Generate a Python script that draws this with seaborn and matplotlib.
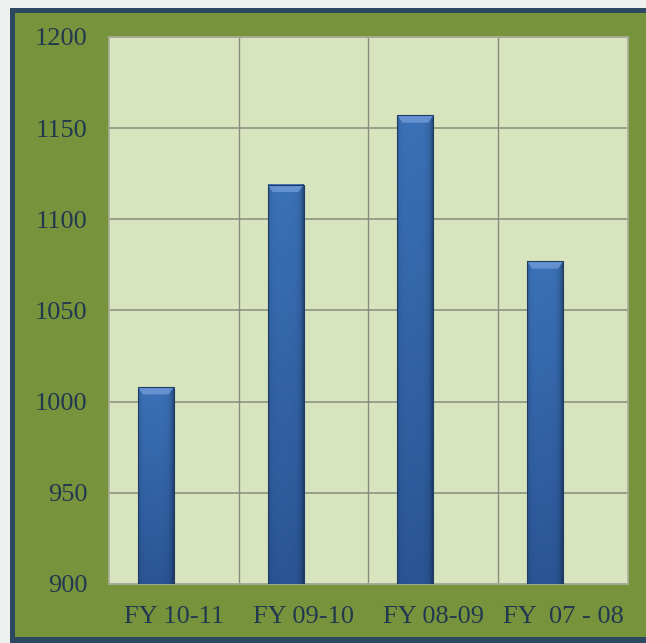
import numpy as np
import pandas as pd
import matplotlib
matplotlib.use("Agg")
import matplotlib.pyplot as plt
from matplotlib.patches import Rectangle
from matplotlib.colors import to_rgb
import seaborn as sns

# Chart data
categories = ["FY 10-11", "FY 09-10", "FY 08-09", "FY  07 - 08"]
values = [1008, 1119, 1157, 1077]
series_names = ["Series1", "Series2"]
y_ticks = [900, 950, 1000, 1050, 1100, 1150, 1200]

df = pd.DataFrame({"period": categories, "value": values, "series": series_names[0]})

sns.set_theme(style="white")
plt.rcParams["font.family"] = ["Liberation Serif", "DejaVu Serif"]

W, H = 646, 643
fig = plt.figure(figsize=(W / 100, H / 100), dpi=100)
fig.patch.set_facecolor("#eef0f0")

# Frame: dark border with olive fill
fig.patches.append(Rectangle((10 / W, 0), 1 - 10 / W, 1 - 8 / H, transform=fig.transFigure,
                             facecolor="#2c4760", edgecolor="none", zorder=-10))
fig.patches.append(Rectangle((15 / W, 6 / H), 1 - 15 / W, 1 - 19 / H, transform=fig.transFigure,
                             facecolor="#77933c", edgecolor="none", zorder=-9))

ax = fig.add_axes([109 / W, 59 / H, 519 / W, 547 / H])
ax.set_zorder(5)
ax.set_facecolor("#d8e4bd")

sns.barplot(data=df, x="period", y="value", hue="series", hue_order=series_names,
            order=categories, dodge=True, width=0.554, palette=["#3567ab", "#3567ab"],
            legend=False, ax=ax, zorder=3)

ymin, ymax = 900, 1200
ax.set_ylim(ymin, ymax)
ax.set_xlim(-0.5, len(categories) - 0.5)
ax.set_yticks(y_ticks)
ax.set_yticklabels([str(t) for t in y_ticks])

# Gridlines
for t in y_ticks:
    ax.axhline(t, color="#878d7d", lw=1.1, zorder=1)
for i in range(1, len(categories)):
    ax.axvline(i - 0.5, color="#878d7d", lw=1.0, zorder=1)

# Bevelled bar shading: horizontal edge darkening combined with a vertical fade
top_c = np.array(to_rgb("#3b71b7"))
bot_c = np.array(to_rgb("#2a5595"))
nx, ny = 48, 128
u = np.linspace(0, 1, nx)
shade_h = 1 - 0.18 * np.exp(-u / 0.06) - 0.35 * np.exp(-(1 - u) / 0.08)
v = np.linspace(0, 1, ny)[:, None]  # 0 = top, 1 = bottom
base = top_c[None, None, :] * (1 - v[..., None]) + bot_c[None, None, :] * v[..., None]
img = np.clip(base * shade_h[None, :, None], 0, 1)

for p in list(ax.patches):
    h = p.get_height()
    if not np.isfinite(h) or h == 0:
        continue
    x0, w = p.get_x(), p.get_width()
    top = p.get_y() + h
    ax.imshow(img, aspect="auto", extent=[x0, x0 + w, ymin, top],
              zorder=4, interpolation="bilinear")
    # top bevel highlight
    cap = 4.0
    ax.fill([x0, x0 + w, x0 + w * 0.86, x0 + w * 0.14], [top, top, top - cap, top - cap],
            color="#6a96d3", alpha=0.9, zorder=5, lw=0)
    p.set_edgecolor("#1f3d68")
    p.set_linewidth(0.8)
    p.set_zorder(6)
    p.set_facecolor("none")

ax.set_xlim(-0.5, len(categories) - 0.5)
ax.set_ylim(ymin, ymax)

for s in ax.spines.values():
    s.set_color("#a9ae9c")
    s.set_linewidth(1.2)

ax.set_xlabel("")
ax.set_ylabel("")
ax.tick_params(axis="y", length=0, pad=15.5, labelsize=19, labelcolor="#22384f")
ax.tick_params(axis="x", length=0, pad=16, labelsize=19, labelcolor="#22384f")

fig.savefig("out.png", dpi=100, facecolor=fig.get_facecolor())
